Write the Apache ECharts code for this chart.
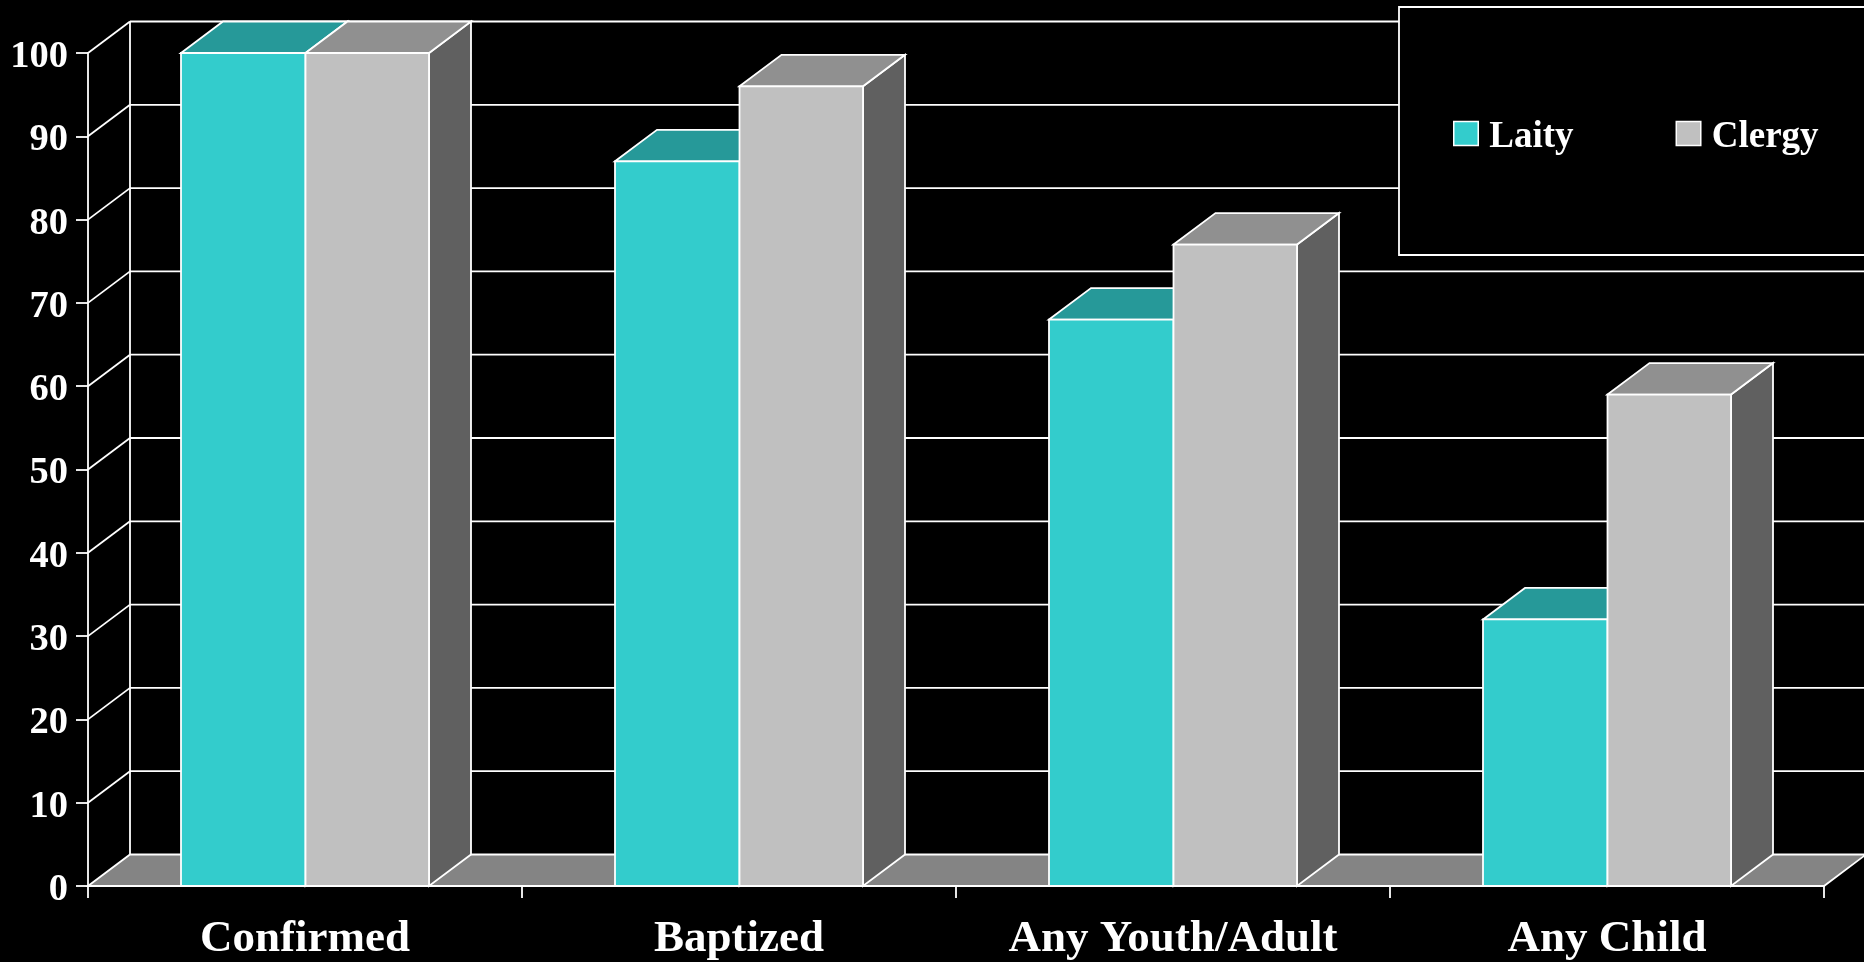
<!DOCTYPE html>
<html><head><meta charset="utf-8">
<style>html,body{margin:0;padding:0;background:#000}#c{width:1864px;height:962px}</style>
<script src="https://cdn.jsdelivr.net/npm/echarts@6/dist/echarts.min.js"></script>
</head><body><div id="c"></div>
<script>
const categories = ['Confirmed', 'Baptized', 'Any Youth/Adult', 'Any Child'];
const laity = [100, 87, 68, 32];
const clergy = [100, 96, 77, 59];
const yTicks = [0, 10, 20, 30, 40, 50, 60, 70, 80, 90, 100];

const FONT = '"Liberation Serif","Times New Roman",serif';
const DX = 42, DY = -31.5, LW = 1.8, LINE = '#ffffff', BAR_FRAC = 124 / 434, SPLIT = 0.5;

function poly(points, fill) {
  return { type: 'polygon', shape: { points }, style: { fill, stroke: LINE, lineWidth: LW } };
}
function seg(x1, y1, x2, y2) {
  return { type: 'line', shape: { x1, y1, x2, y2 }, style: { stroke: LINE, lineWidth: LW, fill: null } };
}
function wall(params, api) {
  const cs = params.coordSys, v = api.value(1);
  const y = api.coord([0, v])[1], L = cs.x, R = cs.x + cs.width;
  const children = [];
  if (v === 0) {
    const top = api.coord([0, yTicks[yTicks.length - 1]])[1];
    children.push(poly([[L, y], [L + DX, y + DY], [R + DX, y + DY], [R, y]], '#848484'));
    children.push(seg(L + DX, y + DY, L + DX, top + DY));
  } else {
    children.push(seg(L + DX, y + DY, R + DX, y + DY));
    children.push(seg(L, y, L + DX, y + DY));
  }
  return { type: 'group', children };
}
function box(front, top, side, dir) {
  return function (params, api) {
    const c = api.coord([api.value(0), api.value(1)]);
    const y0 = api.coord([api.value(0), 0])[1];
    const w = api.size([1, 0])[0] * BAR_FRAC;
    const x1 = dir < 0 ? c[0] - w : c[0] + SPLIT, x2 = dir < 0 ? c[0] + SPLIT : c[0] + w, y1 = c[1];
    return { type: 'group', children: [
      poly([[x2, y1], [x2 + DX, y1 + DY], [x2 + DX, y0 + DY], [x2, y0]], side),
      poly([[x1, y1], [x1 + DX, y1 + DY], [x2 + DX, y1 + DY], [x2, y1]], top),
      poly([[x1, y1], [x2, y1], [x2, y0], [x1, y0]], front)
    ] };
  };
}
const chart = echarts.init(document.getElementById('c'), null, { renderer: 'canvas' });
chart.setOption({
  animation: false,
  backgroundColor: '#000',
  grid: { left: 88, right: 40, top: 53, bottom: 74.5, containLabel: false },
  legend: {
    data: ['Laity', 'Clergy'], selectedMode: false, icon: 'rect', orient: 'horizontal',
    left: 1399, top: 7, width: 372, height: 26,
    padding: [111.5, 60, 99.5, 54], itemWidth: 24.5, itemHeight: 24, itemGap: 102,
    backgroundColor: '#000', borderColor: LINE, borderWidth: 1.8,
    itemStyle: { borderColor: LINE, borderWidth: 1.5 },
    formatter: '{n|{name}}',
    textStyle: { color: '#fff', rich: { n: { color: '#fff', fontFamily: FONT, fontWeight: 'bold', fontSize: 37, padding: [7, 0, 0, 6] } } }
  },
  xAxis: {
    type: 'category', data: categories,
    axisLine: { lineStyle: { color: LINE, width: LW } },
    axisTick: { show: true, length: 12, alignWithLabel: false, lineStyle: { color: LINE, width: LW } },
    axisLabel: { color: '#fff', fontFamily: FONT, fontWeight: 'bold', fontSize: 45, margin: 31, interval: 0 },
    splitLine: { show: false }
  },
  yAxis: {
    type: 'value', min: 0, max: 100, interval: 10,
    axisLine: { show: true, lineStyle: { color: LINE, width: LW } },
    axisTick: { show: true, length: 12, lineStyle: { color: LINE, width: LW } },
    axisLabel: { margin: 20, formatter: '{n|{value}}',
      rich: { n: { color: '#fff', fontFamily: FONT, fontWeight: 'bold', fontSize: 38.5, padding: [8, 0, 0, 0] } } },
    splitLine: { show: false }
  },
  series: [
    { name: 'wall', type: 'custom', z: 1, silent: true, renderItem: wall,
      encode: { x: 0, y: 1 }, data: yTicks.map(v => [0, v]) },
    { name: 'Laity', type: 'custom', z: 2, renderItem: box('#33CCCC', '#269999', '#269999', -1),
      itemStyle: { color: '#33CCCC' }, encode: { x: 0, y: 1 }, data: laity.map((v, i) => [i, v]) },
    { name: 'Clergy', type: 'custom', z: 3, renderItem: box('#C0C0C0', '#909090', '#606060', 1),
      itemStyle: { color: '#C0C0C0' }, encode: { x: 0, y: 1 }, data: clergy.map((v, i) => [i, v]) }
  ]
});
</script></body></html>
